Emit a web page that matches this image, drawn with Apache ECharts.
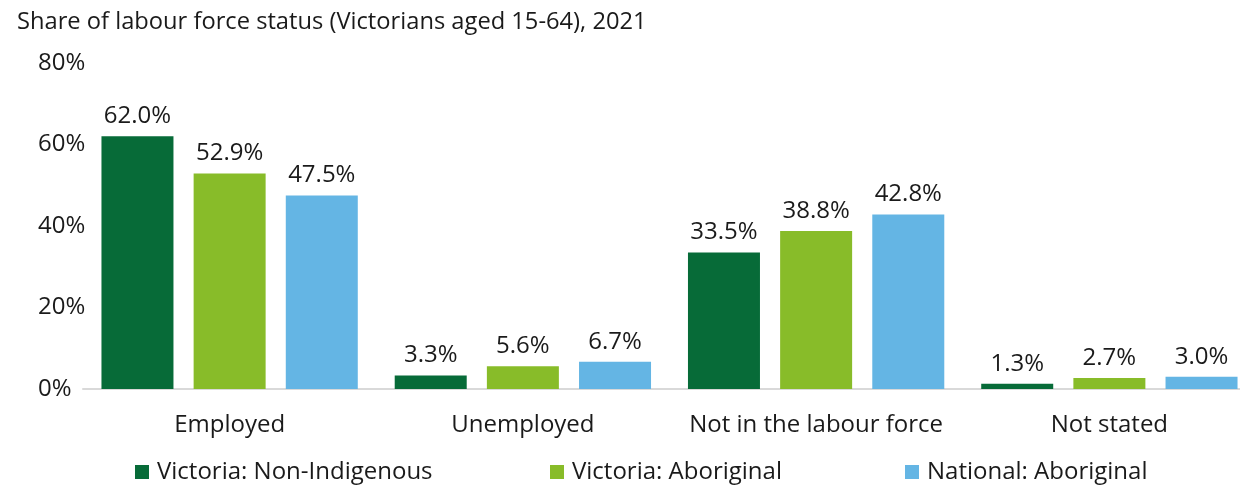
<!DOCTYPE html>
<html><head><meta charset="utf-8">
<script src="https://cdn.jsdelivr.net/npm/echarts@6/dist/echarts.min.js"></script>
<style>html,body{margin:0;padding:0;background:#fff}#c{width:1240px;height:485px}</style>
</head><body><div id="c"></div>
<script>
const title = 'Share of labour force status (Victorians aged 15-64), 2021';
const categories = ['Employed', 'Unemployed', 'Not in the labour force', 'Not stated'];
const seriesNames = ['Victoria: Non-Indigenous', 'Victoria: Aboriginal', 'National: Aboriginal'];
const vicNonIndigenous = [62.0, 3.3, 33.5, 1.3];
const vicAboriginal = [52.9, 5.6, 38.8, 2.7];
const natAboriginal = [47.5, 6.7, 42.8, 3.0];
const colors = ['#076b38', '#88bc29', '#64b5e4'];
const FONT = '"Open Sans", sans-serif';
const FS = 24;
const chart = echarts.init(document.getElementById('c'));
const data = [vicNonIndigenous, vicAboriginal, natAboriginal];
const legendLefts = [130, 545, 900];
chart.setOption({
  animation: false,
  textStyle: {fontFamily: FONT},
  title: {text: title, left: 12, top: 5, textStyle: {fontFamily: FONT, fontSize: 23.7, fontWeight: 'normal', color: '#1a1a1a'}},
  legend: seriesNames.map((n, i) => ({
    data: [n], left: legendLefts[i], top: 455, itemWidth: 14, itemHeight: 14, icon: 'rect', itemGap: 8,
    textStyle: {fontFamily: FONT, fontSize: FS, color: '#1a1a1a', padding: [0,0,0,3]}
  })),
  grid: {left: 83, width: 1173, top: 63, height: 326, outerBoundsMode: 'none', containLabel: false},
  xAxis: {
    type: 'category', data: categories,
    axisLine: {lineStyle: {color: '#d9d9d9', width: 2}},
    axisTick: {show: false},
    axisLabel: {interval: 0, fontFamily: FONT, fontSize: FS, color: '#1a1a1a', margin: 24}
  },
  yAxis: {
    type: 'value', min: 0, max: 80, interval: 20,
    splitLine: {show: false}, axisLine: {show: false}, axisTick: {show: false},
    axisLabel: {formatter: '{value}%', fontFamily: FONT, fontSize: FS, color: '#1a1a1a', align: 'left', margin: 45}
  },
  series: seriesNames.map((n, i) => ({
    name: n, type: 'bar', data: data[i], barWidth: 72, barGap: '28%',
    itemStyle: {color: colors[i]},
    label: {show: true, position: 'top', distance: 8, formatter: p => p.value.toFixed(1) + '%', fontFamily: FONT, fontSize: FS, color: '#1a1a1a'}
  }))
});
</script></body></html>
